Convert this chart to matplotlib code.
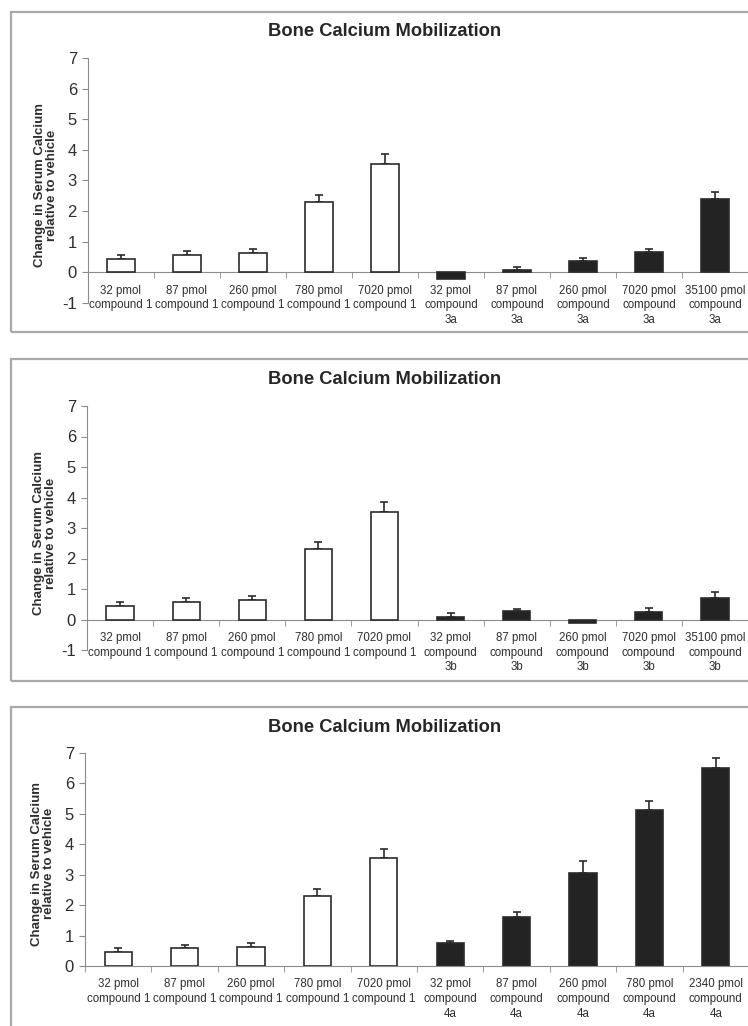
import matplotlib
matplotlib.use("Agg")
import matplotlib.pyplot as plt
from matplotlib.patches import Rectangle
import numpy as np

plt.rcParams['font.family'] = ['Liberation Sans', 'DejaVu Sans']

# 数据
ref_labels = ["32 pmol\ncompound 1", "87 pmol\ncompound 1", "260 pmol\ncompound 1",
              "780 pmol\ncompound 1", "7020 pmol\ncompound 1"]
ref_vals = [0.45, 0.58, 0.64, 2.31, 3.54]
ref_errs = [0.13, 0.12, 0.12, 0.22, 0.31]

labels_3a = ["32 pmol\ncompound\n3a", "87 pmol\ncompound\n3a", "260 pmol\ncompound\n3a",
             "7020 pmol\ncompound\n3a", "35100 pmol\ncompound\n3a"]
vals_3a = [-0.21, 0.09, 0.36, 0.65, 2.41]
errs_3a = [0.0, 0.08, 0.12, 0.11, 0.21]

labels_3b = ["32 pmol\ncompound\n3b", "87 pmol\ncompound\n3b", "260 pmol\ncompound\n3b",
             "7020 pmol\ncompound\n3b", "35100 pmol\ncompound\n3b"]
vals_3b = [0.07, 0.28, -0.13, 0.24, 0.71]
errs_3b = [0.15, 0.06, 0.0, 0.14, 0.19]

labels_4a = ["32 pmol\ncompound\n4a", "87 pmol\ncompound\n4a", "260 pmol\ncompound\n4a",
             "780 pmol\ncompound\n4a", "2340 pmol\ncompound\n4a"]
vals_4a = [0.76, 1.62, 3.04, 5.12, 6.51]
errs_4a = [0.06, 0.16, 0.41, 0.30, 0.32]

title = "Bone Calcium Mobilization"
ylabel = "Change in Serum Calcium\nrelative to vehicle"

W, H = 748, 1026
fig = plt.figure(figsize=(W / 100, H / 100), dpi=100)

txt = "#2e2e2e"
axc = "#8c8c8c"


def px_axes(left, top, right, bottom):
    return fig.add_axes([left / W, 1 - bottom / H, (right - left) / W, (bottom - top) / H])


def panel(box_top, box_bottom, ax_box, ylim, new_labels, new_vals, new_errs, title_y):
    # 灰色边框
    fig.add_artist(Rectangle((11 / W, 1 - box_bottom / H), (770 - 11) / W,
                             (box_bottom - box_top) / H, transform=fig.transFigure,
                             fill=False, edgecolor="#a8a8a8", lw=1.6))
    fig.text(385 / W, 1 - title_y / H, title, ha="center", va="center",
             fontsize=13.2, fontweight="bold", color="#262626")

    ax = px_axes(*ax_box)
    # 先移动底部轴线（会重置刻度），再设置刻度标签
    for s in ["top", "right"]:
        ax.spines[s].set_visible(False)
    ax.spines["left"].set_color(axc)
    ax.spines["bottom"].set_color(axc)
    ax.spines["bottom"].set_position(("data", 0))

    labels = ref_labels + new_labels
    vals = ref_vals + new_vals
    errs = ref_errs + new_errs
    x = np.arange(len(vals))
    colors = ["white"] * len(ref_vals) + ["#232323"] * len(new_vals)
    ax.bar(x, vals, width=0.41, color=colors, edgecolor="#2b2b2b", linewidth=1.2, zorder=3)
    errs = np.array(errs)
    m = errs > 0
    ax.errorbar(x[m], np.array(vals)[m], yerr=[np.zeros(m.sum()), errs[m]], fmt="none",
                ecolor="#2b2b2b", elinewidth=1.2, capsize=3, capthick=1.2, zorder=2)

    ax.set_xlim(-0.5, len(vals) - 0.5)
    ax.set_ylim(*ylim)
    ax.set_yticks(range(ylim[0], ylim[1] + 1))
    ax.set_yticklabels([str(v) for v in range(ylim[0], ylim[1] + 1)])
    ax.set_xticks(x)
    ax.set_xticklabels(labels)
    ax.set_xticks(np.arange(len(vals) + 1) - 0.5, minor=True)
    ax.tick_params(axis="x", which="major", length=0, pad=9, labelsize=8.3, labelcolor=txt)
    ax.tick_params(axis="x", which="minor", length=4, direction="out", color=axc)
    ax.tick_params(axis="y", length=4, direction="out", color=axc, pad=4,
                   labelsize=12, labelcolor=txt)
    for t in ax.get_xticklabels():
        t.set_linespacing(1.28)
    ax.set_ylabel(ylabel, fontsize=9.5, fontweight="bold", color=txt, linespacing=1.0)
    ax.yaxis.set_label_coords(-0.045, 0.48)
    ax.set_facecolor("none")
    return ax


panel(12, 332, (88, 58, 748, 303), (-1, 7), labels_3a, vals_3a, errs_3a, 32)
panel(359, 681, (87, 406, 748, 650), (-1, 7), labels_3b, vals_3b, errs_3b, 379)
panel(707, 1040, (85, 753, 749, 966), (0, 7), labels_4a, vals_4a, errs_4a, 727)

fig.savefig("out.png", dpi=100)
